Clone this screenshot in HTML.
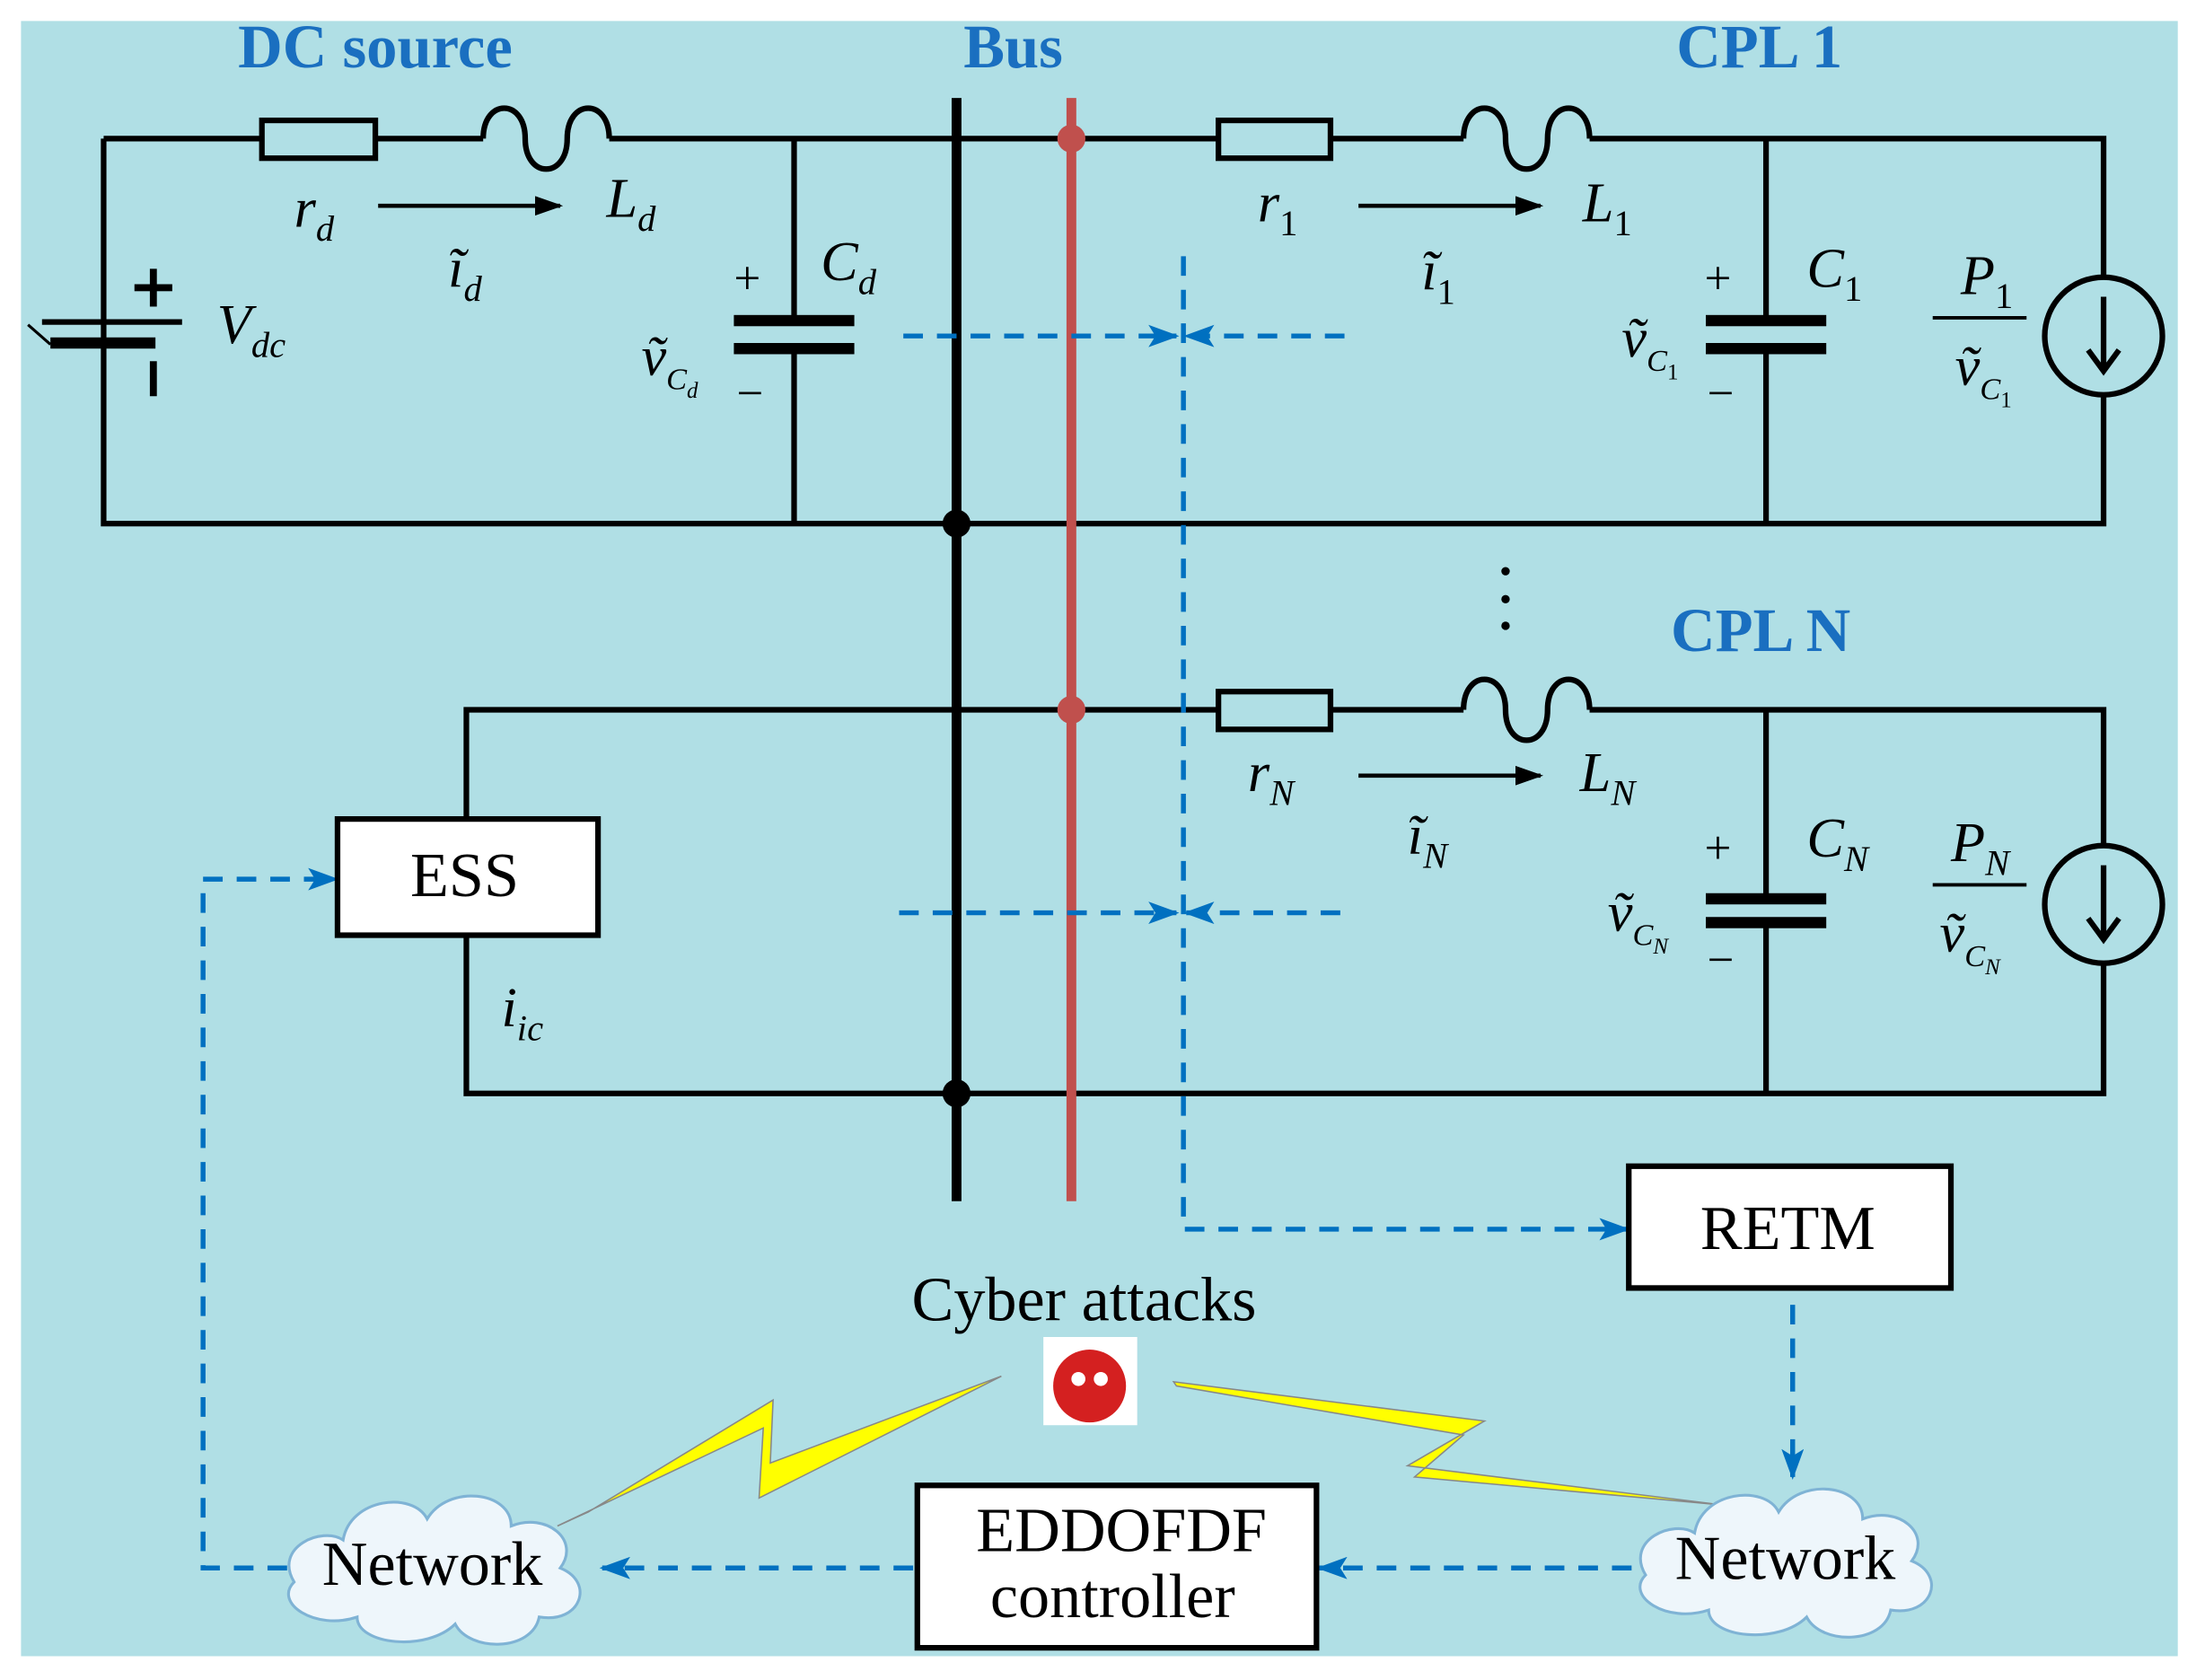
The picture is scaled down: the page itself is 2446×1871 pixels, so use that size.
<!DOCTYPE html>
<html><head><meta charset="utf-8"><style>
html,body{margin:0;padding:0;background:#fff}
svg{display:block}
text{font-family:"Liberation Serif",serif}
</style></head><body>
<svg width="2446" height="1871" viewBox="0 0 1568 1200" preserveAspectRatio="none" xmlns="http://www.w3.org/2000/svg">
<defs>
<marker id="ab" markerWidth="20" markerHeight="14" refX="18" refY="7" orient="auto" markerUnits="userSpaceOnUse"><path d="M0,0 L20,7 L0,14 z" fill="#000"/></marker>
<marker id="abl" markerWidth="22" markerHeight="16" refX="20" refY="8" orient="auto" markerUnits="userSpaceOnUse"><path d="M0,0 L22,8 L0,16 L5,8 z" fill="#0070c0"/></marker>
</defs>
<rect x="15" y="15" width="1540" height="1168" fill="#b0dfe5"/>
<g stroke="#000" stroke-width="4" fill="none">
<path d="M74,99 H187 M268,99 H345 M435,99 H870 M950,99 H1045 M1135,99 H1502 V198 M1502,282 V374 H74 V232 M74,248 V99"/>
<rect x="187" y="86" width="81" height="27"/>
<path d="M345,99 C345,70 375,70 375,99 C375,128 405,128 405,99 C405,70 435,70 435,99"/>
<rect x="870" y="86" width="80" height="27"/>
<path d="M1045,99 C1045,70 1075,70 1075,99 C1075,128 1105,128 1105,99 C1105,70 1135,70 1135,99"/>
<path d="M567,99 V230 M567,250 V374"/>
<path d="M1261,99 V230 M1261,250 V374"/>
<path d="M333,585 V507 H870 M950,507 H1045 M1135,507 H1502 V604 M1502,688 V781 H333 V668"/>
<rect x="870" y="494" width="80" height="27"/>
<path d="M1045,507 C1045,478 1075,478 1075,507 C1075,536 1105,536 1105,507 C1105,478 1135,478 1135,507"/>
<path d="M1261,507 V643 M1261,661 V781"/>
</g>
<g fill="#000">
<rect x="524" y="225" width="86" height="8"/><rect x="524" y="245" width="86" height="8"/>
<rect x="1218" y="225" width="86" height="8"/><rect x="1218" y="245" width="86" height="8"/>
<rect x="1218" y="638" width="86" height="8"/><rect x="1218" y="655" width="86" height="8"/>
<rect x="30" y="228" width="100" height="4"/><rect x="36" y="241" width="75" height="8"/>
<rect x="96" y="203" width="27" height="5"/><rect x="107" y="192" width="5" height="27"/>
<rect x="107" y="258" width="5" height="25"/>
</g>
<path d="M20,232 L36,246" stroke="#000" stroke-width="2"/>
<g stroke="#000" stroke-width="4" fill="none">
<circle cx="1502" cy="240" r="42"/><circle cx="1502" cy="646" r="42"/>
<path d="M1502,212 V262 M1491,250 L1502,265 L1513,250"/>
<path d="M1502,618 V668 M1491,656 L1502,671 L1513,656"/>
</g>
<g stroke="#000" stroke-width="3">
<line x1="270" y1="147" x2="400" y2="147" marker-end="url(#ab)"/>
<line x1="970" y1="147" x2="1100" y2="147" marker-end="url(#ab)"/>
<line x1="970" y1="554" x2="1100" y2="554" marker-end="url(#ab)"/>
</g>
<line x1="683" y1="70" x2="683" y2="858" stroke="#000" stroke-width="7"/>
<line x1="765" y1="70" x2="765" y2="858" stroke="#c0504d" stroke-width="7"/>
<circle cx="765" cy="99" r="10" fill="#c0504d"/><circle cx="765" cy="507" r="10" fill="#c0504d"/>
<circle cx="683" cy="374" r="10" fill="#000"/><circle cx="683" cy="781" r="10" fill="#000"/>
<g stroke="#0070c0" stroke-width="3.5" stroke-dasharray="14,10" fill="none">
<line x1="645" y1="240" x2="840" y2="240" marker-end="url(#abl)"/>
<line x1="960" y1="240" x2="847" y2="240" marker-end="url(#abl)"/>
<line x1="642" y1="652" x2="840" y2="652" marker-end="url(#abl)"/>
<line x1="957" y1="652" x2="847" y2="652" marker-end="url(#abl)"/>
<path d="M845,183 V878 H1162" marker-end="url(#abl)"/>
<line x1="1280" y1="932" x2="1280" y2="1055" marker-end="url(#abl)"/>
<line x1="1165" y1="1120" x2="942" y2="1120" marker-end="url(#abl)"/>
<line x1="652" y1="1120" x2="430" y2="1120" marker-end="url(#abl)"/>
<path d="M205,1120 H145 V628 H240" marker-end="url(#abl)"/>
</g>
<g stroke="#000" stroke-width="4" fill="#fff">
<rect x="241" y="585" width="186" height="83"/>
<rect x="1163" y="833" width="230" height="87"/>
<rect x="655" y="1061" width="285" height="116"/>
</g>
<polygon points="398,1090 545,1020 542,1070 715,983 550,1045 552,1000 420,1080" fill="#ffff00" stroke="#888" stroke-width="1"/>
<polygon points="838,987 1060,1015 1005,1047 1230,1075 1010,1055 1045,1025 840,990" fill="#ffff00" stroke="#888" stroke-width="1"/>
<g fill="#eef6fb" stroke="#7fb3d5" stroke-width="2">
<path d="M210,1130 c-15,-25 20,-40 35,-30 c5,-30 50,-35 60,-15 c15,-25 60,-20 60,5 c25,-10 50,10 35,30 c25,10 15,40 -15,35 c-5,25 -50,25 -60,5 c-20,20 -70,15 -70,-5 c-30,10 -60,-10 -45,-25 z"/>
<path d="M1175,1125 c-15,-25 20,-40 35,-30 c5,-30 50,-35 60,-15 c15,-25 60,-20 60,5 c25,-10 50,10 35,30 c25,10 15,40 -15,35 c-5,25 -50,25 -60,5 c-20,20 -70,15 -70,-5 c-30,10 -60,-10 -45,-25 z"/>
</g>
<rect x="745" y="955" width="67" height="63" fill="#fff"/>
<circle cx="778" cy="990" r="26" fill="#d42020"/>
<circle cx="770" cy="985" r="5" fill="#fff"/><circle cx="786" cy="985" r="5" fill="#fff"/>
<g fill="#1a6fc0" font-weight="bold" font-size="44">
<text x="170" y="48">DC source</text>
<text x="688" y="48">Bus</text>
<text x="1197" y="48">CPL 1</text>
<text x="1193" y="465">CPL N</text>
</g>
<g font-size="45" fill="#000">
<text x="293" y="640">ESS</text>
<text x="1214" y="892">RETM</text>
<text x="697" y="1108">EDDOFDF</text>
<text x="707" y="1155">controller</text>
<text x="651" y="943">Cyber attacks</text>
<text x="230" y="1132">Network</text>
<text x="1196" y="1128">Network</text>
</g>
<g font-size="40" font-style="italic" fill="#000">
<text x="210" y="162">r<tspan font-size="26" dy="10">d</tspan></text>
<text x="433" y="155">L<tspan font-size="26" dy="10">d</tspan></text>
<text x="320" y="205">ĩ<tspan font-size="26" dy="10">d</tspan></text>
<text x="586" y="200">C<tspan font-size="26" dy="10">d</tspan></text>
<text x="155" y="245">V<tspan font-size="26" dy="10">dc</tspan></text>
<text x="458" y="268">ṽ<tspan font-size="22" dy="10">C</tspan><tspan font-size="16" dy="6">d</tspan></text>
<text x="898" y="158">r<tspan font-size="26" dy="10" font-style="normal">1</tspan></text>
<text x="1130" y="158">L<tspan font-size="26" dy="10" font-style="normal">1</tspan></text>
<text x="1015" y="207">ĩ<tspan font-size="26" dy="10" font-style="normal">1</tspan></text>
<text x="1290" y="205">C<tspan font-size="26" dy="10" font-style="normal">1</tspan></text>
<text x="1158" y="255">ṽ<tspan font-size="22" dy="10">C</tspan><tspan font-size="16" dy="6" font-style="normal">1</tspan></text>
<text x="1400" y="210">P<tspan font-size="26" dy="10" font-style="normal">1</tspan></text>
<text x="1396" y="275">ṽ<tspan font-size="22" dy="10">C</tspan><tspan font-size="16" dy="6" font-style="normal">1</tspan></text>
<text x="891" y="565">r<tspan font-size="26" dy="10">N</tspan></text>
<text x="1128" y="565">L<tspan font-size="26" dy="10">N</tspan></text>
<text x="1005" y="610">ĩ<tspan font-size="26" dy="10">N</tspan></text>
<text x="1290" y="612">C<tspan font-size="26" dy="10">N</tspan></text>
<text x="1148" y="665">ṽ<tspan font-size="22" dy="10">C</tspan><tspan font-size="16" dy="6">N</tspan></text>
<text x="1393" y="615">P<tspan font-size="26" dy="10">N</tspan></text>
<text x="1385" y="680">ṽ<tspan font-size="22" dy="10">C</tspan><tspan font-size="16" dy="6">N</tspan></text>
<text x="358" y="733">i<tspan font-size="26" dy="10">ic</tspan></text>
</g>
<g stroke="#000" stroke-width="2.5">
<line x1="1380" y1="227" x2="1447" y2="227"/>
<line x1="1380" y1="632" x2="1447" y2="632"/>
</g>
<g font-size="34" fill="#000">
<text x="524" y="210">+</text><text x="526" y="292">−</text>
<text x="1217" y="210">+</text><text x="1219" y="292">−</text>
<text x="1217" y="617">+</text><text x="1219" y="697">−</text>
</g>
<g fill="#000"><circle cx="1075" cy="408" r="3"/><circle cx="1075" cy="428" r="3"/><circle cx="1075" cy="447" r="3"/></g>
</svg>
</body></html>
